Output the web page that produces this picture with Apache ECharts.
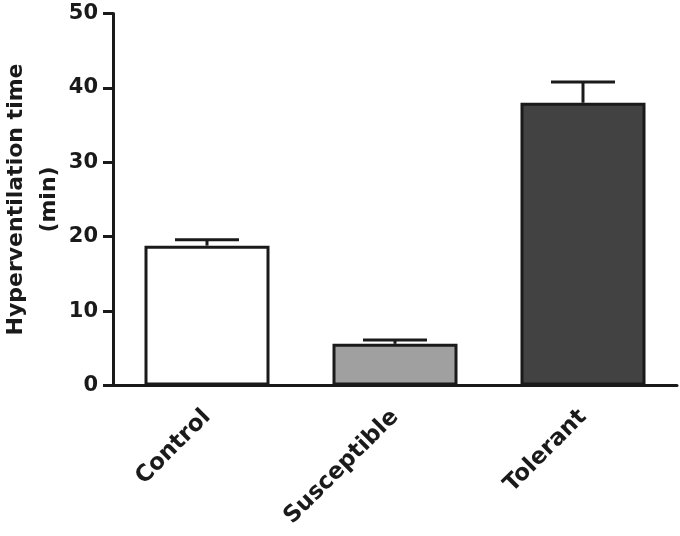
<!DOCTYPE html>
<html>
<head>
<meta charset="utf-8">
<script src="https://cdn.jsdelivr.net/npm/echarts@6/dist/echarts.min.js"></script>
<style>
  html, body { margin: 0; padding: 0; background: #fff; }
  #chart { width: 680px; height: 536px; }
</style>
</head>
<body>
<div id="chart"></div>
<script>
const categories = ['Control', 'Susceptible', 'Tolerant'];
const means = [18.8, 5.6, 38.0];
const errors = [0.8, 0.5, 2.8];
const barColors = ['#ffffff', '#a0a0a0', '#424242'];
const yTicks = [0, 10, 20, 30, 40, 50];

const FONT = '"DejaVu Sans", Arial, sans-serif';
const INK = '#1a1a1a';
const chart = echarts.init(document.getElementById('chart'), null, { renderer: 'canvas' });

const option = {
  backgroundColor: '#ffffff',
  animation: false,
  grid: { left: 113, right: 3, top: 13.5, bottom: 150.5, containLabel: false, outerBoundsMode: 'none' },
  xAxis: {
    type: 'category',
    data: categories,
    axisLine: { lineStyle: { color: INK, width: 3 } },
    axisTick: { alignWithLabel: true, length: 10, lineStyle: { color: INK, width: 3 } },
    axisLabel: {
      rotate: 45, margin: 28, color: INK,
      fontFamily: FONT, fontWeight: 'bold', fontSize: 23
    }
  },
  yAxis: {
    type: 'value',
    min: yTicks[0], max: yTicks[yTicks.length - 1], interval: 10,
    name: 'Hyperventilation time\n(min)',
    nameLocation: 'middle',
    nameRotate: 90,
    nameGap: 47,
    nameMoveOverlap: false,
    nameTextStyle: { fontFamily: FONT, fontWeight: 'bold', fontSize: 22, color: INK, lineHeight: 33 },
    axisLine: { show: true, lineStyle: { color: INK, width: 3 } },
    axisTick: { show: true, length: 10, lineStyle: { color: INK, width: 3 } },
    axisLabel: { margin: 15, color: INK, fontFamily: FONT, fontWeight: 'bold', fontSize: 21 },
    splitLine: { show: false }
  },
  series: [
    {
      type: 'bar',
      barWidth: 125,
      z: 2,
      data: means.map((v, i) => ({
        value: v,
        itemStyle: { color: barColors[i], borderColor: INK, borderWidth: 3 }
      }))
    },
    {
      type: 'custom',
      z: 3,
      data: means.map((v, i) => [i, v, v + errors[i]]),
      renderItem: function (params, api) {
        const x = api.value(0);
        const base = api.coord([x, api.value(1)]);
        const top = api.coord([x, api.value(2)]);
        const half = 32;
        const style = { stroke: INK, lineWidth: 3 };
        return {
          type: 'group',
          children: [
            { type: 'line', shape: { x1: base[0], y1: base[1], x2: top[0], y2: top[1] }, style: style },
            { type: 'line', shape: { x1: top[0] - half, y1: top[1], x2: top[0] + half, y2: top[1] }, style: style }
          ]
        };
      }
    }
  ]
};
chart.setOption(option);
</script>
</body>
</html>
